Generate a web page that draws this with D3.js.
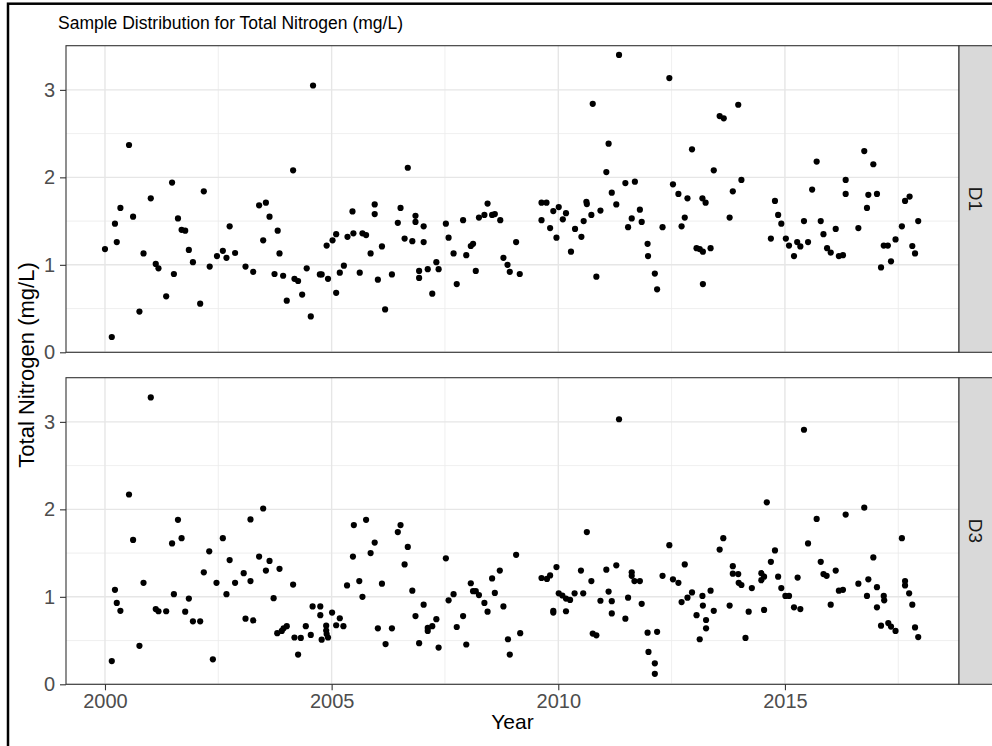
<!DOCTYPE html>
<html><head><meta charset="utf-8">
<script src="https://cdn.jsdelivr.net/npm/d3@7"></script>
<style>
body{margin:0;background:#fff}
svg{display:block;font-family:"Liberation Sans",Arial,sans-serif}
</style>
</head><body>
<svg id="chart" width="992" height="746"></svg>
<script>
// ---- data ----
const facetNames = ["D1", "D3"];
const d1Year = [2000.00,2000.15,2000.22,2000.26,2000.34,2000.53,2000.62,2000.76,2000.85,2001.01,2001.12,2001.18,2001.35,2001.48,2001.52,2001.61,2001.69,2001.77,2001.85,2001.94,2002.10,2002.18,2002.31,2002.47,2002.60,2002.68,2002.75,2002.87,2003.10,2003.27,2003.40,2003.55,2003.49,2003.63,2003.74,2003.81,2003.85,2003.93,2004.01,2004.15,2004.18,2004.26,2004.35,2004.45,2004.54,2004.59,2004.74,2004.78,2004.92,2004.89,2005.02,2005.10,2005.10,2005.18,2005.27,2005.35,2005.46,2005.48,
2005.62,2005.68,2005.76,2005.86,2005.95,2005.95,2006.02,2006.11,2006.18,2006.33,2006.46,2006.52,2006.61,2006.68,2006.78,2006.85,2006.85,2006.93,2006.93,2007.03,2007.03,2007.12,2007.22,2007.31,2007.36,2007.52,2007.58,2007.69,2007.76,2007.90,2007.97,2008.07,2008.12,2008.18,2008.25,2008.37,2008.44,2008.54,2008.60,2008.72,2008.79,2008.88,2008.93,2009.07,2009.15,2009.63,2009.74,2009.63,2009.82,2009.89,2009.96,2010.01,2010.10,2010.17,2010.28,2010.37,2010.51,2010.56,2010.62,2010.63,2010.73,2010.84,2010.76,2010.93,2011.06,2011.11,2011.18,2011.28,2011.34,2011.48,2011.54,2011.62,2011.69,2011.80,2011.84,2011.97,2011.98,
2012.13,2012.18,2012.30,2012.45,2012.53,2012.65,2012.72,2012.79,2012.85,2012.95,2013.05,2013.12,2013.19,2013.19,2013.18,2013.25,2013.36,2013.43,2013.56,2013.65,2013.78,2013.85,2013.97,2014.04,2014.69,2014.78,2014.85,2014.92,2015.02,2015.09,2015.20,2015.27,2015.34,2015.42,2015.51,2015.60,2015.70,2015.79,2015.85,2015.93,2016.01,2016.12,2016.19,2016.28,2016.34,2016.34,2016.62,2016.75,2016.81,2016.84,2016.95,2017.03,2017.12,2017.18,2017.27,2017.34,2017.44,2017.58,2017.65,2017.75,2017.81,2017.87,2017.94];
const d1TN = [1.18,0.175,1.47,1.26,1.65,2.37,1.55,0.465,1.13,1.76,1.01,0.96,0.64,1.94,0.895,1.53,1.40,1.39,1.17,1.03,0.556,1.84,0.98,1.10,1.16,1.08,1.44,1.135,0.98,0.92,1.68,1.71,1.28,1.55,0.895,1.39,1.13,0.875,0.59,2.08,0.84,0.815,0.66,0.96,0.41,3.05,0.89,0.89,0.84,1.22,1.28,1.35,0.68,0.91,0.99,1.32,1.61,1.36,
0.91,1.36,1.34,1.13,1.69,1.58,0.83,1.21,0.49,0.89,1.48,1.65,1.30,2.11,1.27,1.56,1.49,0.93,0.85,1.44,1.26,0.95,0.67,1.03,0.95,1.47,1.31,1.13,0.78,1.51,1.11,1.215,1.24,0.93,1.54,1.57,1.70,1.57,1.58,1.51,1.08,1.00,0.92,1.26,0.895,1.71,1.71,1.51,1.42,1.615,1.31,1.66,1.52,1.59,1.15,1.41,1.32,1.50,1.72,1.695,1.57,0.865,2.84,1.62,2.06,2.385,1.825,1.69,3.40,1.935,1.43,1.53,1.95,1.63,1.49,1.24,1.10,
0.90,0.72,1.43,3.135,1.92,1.81,1.44,1.54,1.76,2.32,1.19,1.18,1.15,0.78,1.76,1.71,1.19,2.08,2.70,2.675,1.54,1.84,2.83,1.97,1.30,1.73,1.57,1.47,1.30,1.22,1.10,1.26,1.21,1.50,1.26,1.86,2.18,1.50,1.35,1.19,1.14,1.41,1.10,1.11,1.97,1.81,1.42,2.30,1.65,1.80,2.15,1.81,0.97,1.22,1.22,1.04,1.29,1.44,1.73,1.78,1.215,1.13,1.50];
const d3Year = [2000.15,2000.22,2000.26,2000.34,2000.53,2000.62,2000.76,2000.85,2001.01,2001.12,2001.18,2001.35,2001.48,2001.52,2001.61,2001.69,2001.77,2001.85,2001.94,2002.10,2002.18,2002.30,2002.38,2002.46,2002.60,2002.68,2002.75,2002.87,2003.06,2003.10,2003.21,2003.21,2003.27,2003.40,2003.49,2003.55,2003.63,2003.72,2003.80,2003.85,2003.90,2003.94,2004.01,2004.15,2004.18,2004.26,2004.32,2004.43,2004.54,2004.58,2004.75,2004.75,2004.78,2004.88,2004.88,2004.89,2004.92,2005.01,2005.10,2005.18,2005.26,2005.34,2005.47,2005.49,
2005.61,2005.68,2005.76,2005.86,2005.95,2006.02,2006.11,2006.19,2006.33,2006.46,2006.52,2006.61,2006.68,2006.78,2006.85,2006.93,2007.03,2007.12,2007.12,2007.22,2007.31,2007.36,2007.52,2007.58,2007.69,2007.76,2007.90,2007.97,2008.07,2008.12,2008.18,2008.25,2008.37,2008.44,2008.54,2008.60,2008.71,2008.79,2008.89,2008.93,2009.07,2009.16,2009.63,2009.75,2009.82,2009.89,2009.89,2009.96,2010.01,2010.09,2010.17,2010.17,2010.26,2010.36,2010.50,2010.55,2010.63,2010.73,2010.76,2010.84,2010.93,2011.06,2011.11,2011.18,2011.18,2011.28,2011.34,2011.48,2011.54,2011.62,2011.62,2011.68,2011.80,2011.84,2011.97,2011.99,
2012.13,2012.13,2012.18,2012.30,2012.45,2012.53,2012.65,2012.72,2012.79,2012.85,2012.95,2013.05,2013.12,2013.18,2013.19,2013.26,2013.26,2013.36,2013.43,2013.56,2013.64,2013.78,2013.85,2013.85,2013.97,2013.98,2014.04,2014.13,2014.20,2014.27,2014.48,2014.48,2014.54,2014.54,2014.60,2014.69,2014.78,2014.85,2014.92,2015.01,2015.09,2015.20,2015.28,2015.34,2015.42,2015.51,2015.70,2015.79,2015.85,2015.92,2016.01,2016.12,2016.19,2016.28,2016.34,2016.62,2016.75,2016.81,2016.84,2016.95,2017.03,2017.03,2017.12,2017.18,2017.19,2017.28,2017.34,2017.44,2017.58,2017.65,2017.65,2017.74,2017.81,2017.87,2017.94];
const d3TN = [0.265,1.08,0.93,0.84,2.17,1.65,0.44,1.16,3.28,0.86,0.835,0.835,1.61,1.03,1.88,1.67,0.83,0.98,0.72,0.72,1.28,1.52,0.285,1.16,1.67,1.03,1.42,1.16,1.27,0.75,1.18,1.885,0.73,1.46,2.01,1.30,1.41,0.985,0.585,1.32,0.61,0.64,0.665,1.14,0.535,0.34,0.53,0.665,0.565,0.89,0.89,0.79,0.51,0.67,0.615,0.575,0.535,0.82,0.675,0.755,0.665,1.13,1.46,1.82,
1.18,1.00,1.88,1.50,1.62,0.64,1.15,0.46,0.64,1.74,1.82,1.37,1.57,1.07,0.78,0.47,0.91,0.61,0.645,0.665,0.745,0.42,1.44,0.96,1.03,0.655,0.78,0.455,1.155,1.065,1.065,1.02,0.93,0.83,1.21,1.045,1.30,0.89,0.515,0.34,1.48,0.585,1.215,1.205,1.245,0.84,0.82,1.34,1.04,1.015,0.835,0.98,0.965,1.04,1.30,1.04,1.74,1.18,0.58,0.56,0.955,1.31,1.06,0.95,0.81,1.36,3.03,0.75,0.99,1.28,1.24,1.18,1.18,0.92,0.59,0.37,
0.24,0.12,0.60,1.24,1.59,1.20,1.16,0.94,1.37,0.99,1.05,0.79,0.515,1.01,0.90,0.735,0.64,1.07,0.84,1.54,1.67,0.90,1.35,1.265,1.26,1.16,1.135,0.53,0.83,1.10,1.27,1.19,1.23,0.85,2.08,1.40,1.53,1.23,1.10,1.01,1.01,0.88,1.22,0.86,2.91,1.61,1.89,1.40,1.26,1.24,0.91,1.30,1.07,1.08,1.94,1.15,2.02,1.01,1.20,1.45,1.11,0.88,0.67,1.01,0.96,0.70,0.66,0.61,1.67,1.18,1.13,1.04,0.91,0.65,0.54];
const xTickVals = [2000, 2005, 2010, 2015];
const xMinorVals = [2002.5, 2007.5, 2012.5, 2017.5];
const yTickVals = [0, 1, 2, 3];
const yMinorVals = [0.5, 1.5, 2.5];
const titleText = "Sample Distribution for Total Nitrogen (mg/L)";
const xTitle = "Year";
const yTitle = "Total Nitrogen (mg/L)";

const facetData = [
  d1Year.map((y, i) => ({year: y, tn: d1TN[i]})),
  d3Year.map((y, i) => ({year: y, tn: d3TN[i]}))
];

// ---- layout ----
const svg = d3.select("#chart");
const L = 66, R = 959, stripW = 35;
const panels = [{top: 45.7, bottom: 352.3}, {top: 377.7, bottom: 684.3}];
const x = d3.scaleLinear().domain([1999.14, 2018.84]).range([L, R]);
const font = '"Liberation Sans", Arial, sans-serif';

// outer frame (partially visible in reference)
svg.append("rect").attr("x", 8).attr("y", 3.7).attr("width", 1100).attr("height", 1100)
  .attr("fill", "none").attr("stroke", "#000").attr("stroke-width", 2.5);

// title
svg.append("text").attr("x", 58).attr("y", 29).attr("font-size", 17.5).attr("fill", "#000")
  .text(titleText);

panels.forEach((p, k) => {
  const y = d3.scaleLinear().domain([0, 3.505]).range([p.bottom, p.top]);
  const g = svg.append("g");
  g.append("rect").attr("x", L).attr("y", p.top).attr("width", R - L).attr("height", p.bottom - p.top).attr("fill", "#fff");
  // minor grid
  g.selectAll(".xm").data(xMinorVals).join("line")
    .attr("x1", d => x(d)).attr("x2", d => x(d)).attr("y1", p.top).attr("y2", p.bottom)
    .attr("stroke", "#ebebeb").attr("stroke-width", 0.8);
  g.selectAll(".ym").data(yMinorVals).join("line")
    .attr("x1", L).attr("x2", R).attr("y1", d => y(d)).attr("y2", d => y(d))
    .attr("stroke", "#ebebeb").attr("stroke-width", 0.8);
  // major grid
  g.selectAll(".xg").data(xTickVals).join("line")
    .attr("x1", d => x(d)).attr("x2", d => x(d)).attr("y1", p.top).attr("y2", p.bottom)
    .attr("stroke", "#e6e6e6").attr("stroke-width", 1.4);
  g.selectAll(".yg").data(yTickVals).join("line")
    .attr("x1", L).attr("x2", R).attr("y1", d => y(d)).attr("y2", d => y(d))
    .attr("stroke", "#e6e6e6").attr("stroke-width", 1.4);
  // points
  g.selectAll("circle").data(facetData[k]).join("circle")
    .attr("cx", d => x(d.year)).attr("cy", d => y(d.tn)).attr("r", 3.1).attr("fill", "#000");
  // panel border
  g.append("rect").attr("x", L).attr("y", p.top).attr("width", R - L).attr("height", p.bottom - p.top)
    .attr("fill", "none").attr("stroke", "#333").attr("stroke-width", 1.1);
  // strip
  g.append("rect").attr("x", R).attr("y", p.top).attr("width", stripW).attr("height", p.bottom - p.top)
    .attr("fill", "#d9d9d9").attr("stroke", "#333").attr("stroke-width", 1.1);
  g.append("text").attr("transform", `translate(${R + 10},${(p.top + p.bottom) / 2}) rotate(90)`)
    .attr("text-anchor", "middle").attr("font-size", 19).attr("fill", "#1a1a1a").text(facetNames[k]);
  // y axis
  const ya = g.append("g").attr("transform", `translate(${L},0)`)
    .call(d3.axisLeft(y).tickValues(yTickVals).tickFormat(d3.format("d")).tickSize(6).tickPadding(5));
  ya.select(".domain").remove();
  ya.selectAll(".tick line").attr("stroke", "#333").attr("stroke-width", 1.1);
  ya.selectAll(".tick text").attr("fill", "#4d4d4d").attr("font-size", 20).attr("font-family", font);
  if (k === 1) {
    const xa = g.append("g").attr("transform", `translate(0,${p.bottom})`)
      .call(d3.axisBottom(x).tickValues(xTickVals).tickFormat(d3.format("d")).tickSize(6).tickPadding(4));
    xa.select(".domain").remove();
    xa.selectAll(".tick line").attr("stroke", "#333").attr("stroke-width", 1.1);
    xa.selectAll(".tick text").attr("fill", "#4d4d4d").attr("font-size", 20).attr("font-family", font);
  }
});

// axis titles
svg.append("text").attr("x", (L + R) / 2).attr("y", 729).attr("text-anchor", "middle")
  .attr("font-size", 21).attr("fill", "#000").text(xTitle);
svg.append("text").attr("transform", `translate(34,${(panels[0].top + panels[1].bottom) / 2}) rotate(-90)`)
  .attr("text-anchor", "middle").attr("font-size", 22).attr("fill", "#000").text(yTitle);
</script>
</body></html>
